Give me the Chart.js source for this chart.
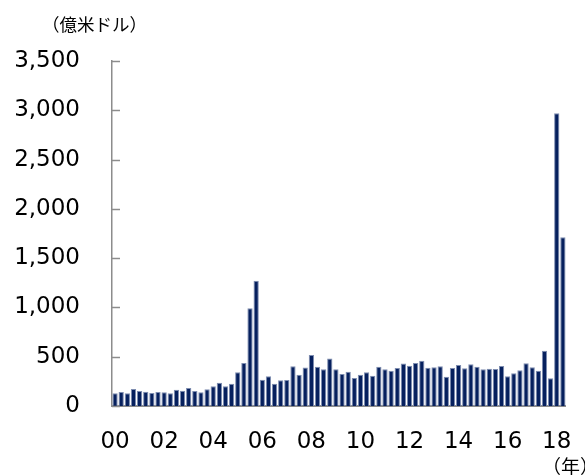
<!DOCTYPE html>
<html>
<head>
<meta charset="utf-8">
<script src="https://cdn.jsdelivr.net/npm/chart.js@4/dist/chart.umd.min.js"></script>
<style>
html,body{margin:0;padding:0;background:#fff;}
#wrap{position:relative;width:585px;height:475px;}
</style>
</head>
<body>
<div id="wrap"><canvas id="c" width="585" height="475"></canvas></div>
<script>
// Quarterly categories 2000Q1 .. 2018Q2
const years = [];
for (let y = 2000; y <= 2018; y++) years.push(y);
const quarters = [];
years.forEach(y => { for (let q = 1; q <= 4; q++) { if (y === 2018 && q > 2) break; quarters.push(y + 'Q' + q); } });

// Values (億米ドル)
const values = [
  129, 142, 129, 172, 152, 145, 132, 142,
  139, 129, 165, 155, 183, 152, 139, 169,
  200, 236, 200, 226, 342, 436, 991, 1271,
  267, 301, 226, 262, 264, 402, 316, 390,
  517, 399, 373, 482, 372, 325, 348, 284,
  318, 342, 308, 399, 372, 358, 385, 431,
  409, 436, 460, 389, 392, 402, 297, 385,
  416, 382, 423, 399, 372, 379, 375, 406,
  301, 331, 362, 433, 392, 358, 561, 281,
  2969, 1711
];

// x tick labels at Q1 of even years
const tickLabels = ['00','02','04','06','08','10','12','14','16','18'];
const yTicks = [0, 500, 1000, 1500, 2000, 2500, 3000, 3500];
const unitLabel = '（億米ドル）';
const xUnitLabel = '（年）';

const labelFont = "'DejaVu Sans', Verdana, sans-serif";
const cjkFont = "'Noto Sans CJK JP', sans-serif";

const extras = {
  id: 'extras',
  afterDraw(chart) {
    const ctx = chart.ctx;
    const y = chart.scales.y;
    ctx.save();
    // inward tick marks on y axis
    ctx.strokeStyle = '#8c8c8c';
    ctx.lineWidth = 1.5;
    yTicks.forEach(v => {
      const py = Math.round(y.getPixelForValue(v)) + 0.5;
      ctx.beginPath();
      ctx.moveTo(y.right, py);
      ctx.lineTo(y.right + 8, py);
      ctx.stroke();
    });
    // unit labels
    ctx.fillStyle = '#000';
    ctx.font = "17.5px " + cjkFont;
    ctx.textBaseline = 'middle';
    ctx.textAlign = 'left';
    ctx.fillText(unitLabel, 42, 24);
    ctx.font = "19px " + cjkFont;
    ctx.fillText(xUnitLabel, 542, 467);
    ctx.restore();
  }
};

new Chart(document.getElementById('c'), {
  type: 'bar',
  data: {
    labels: quarters,
    datasets: [{
      data: values,
      backgroundColor: '#06205e',
      borderColor: '#7e8db0',
      borderWidth: {top: 1, left: 1, right: 1, bottom: 0},
      barPercentage: 0.86,
      categoryPercentage: 1.0
    }]
  },
  plugins: [extras],
  options: {
    responsive: false,
    animation: false,
    devicePixelRatio: 1,
    layout: { padding: { left: 12, right: 17, top: 61, bottom: 0 } },
    plugins: { legend: { display: false }, tooltip: { enabled: false }, title: { display: false } },
    scales: {
      x: {
        afterFit: s => { s.height = 69; },
        grid: { display: false, drawTicks: false },
        border: { display: true, color: '#8c8c8c', width: 2 },
        ticks: {
          autoSkip: false,
          maxRotation: 0,
          padding: 22,
          color: '#000',
          font: { family: labelFont, size: 23 },
          callback: function(val, idx) {
            return (idx % 8 === 0) ? tickLabels[idx / 8] : '';
          }
        }
      },
      y: {
        afterFit: s => { s.width = 100; },
        min: 0,
        max: 3500,
        grid: { display: false, drawTicks: false },
        border: { display: true, color: '#8c8c8c', width: 1.5 },
        ticks: {
          stepSize: 500,
          padding: 32,
          color: '#000',
          font: { family: labelFont, size: 23 },
          callback: v => v.toLocaleString('en-US')
        }
      }
    }
  }
});
</script>
</body>
</html>
